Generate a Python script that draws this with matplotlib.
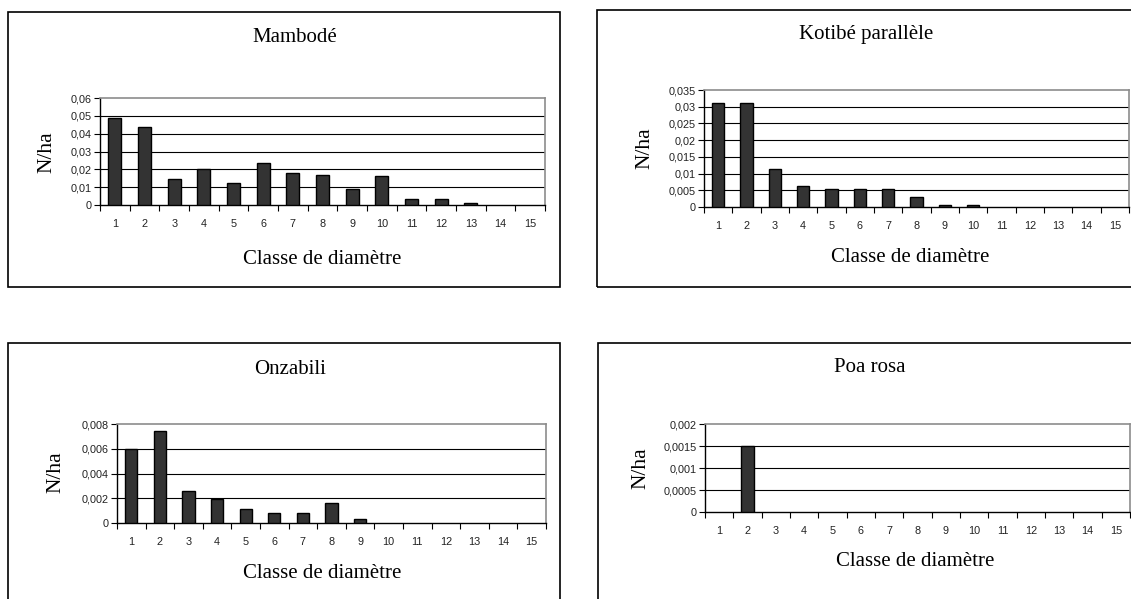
import numpy as np
import matplotlib
matplotlib.use("Agg")
import matplotlib.pyplot as plt
from matplotlib.patches import Rectangle

# data
classes = list(range(1, 16))
mambode = [0.049, 0.0435, 0.0145, 0.020, 0.0123, 0.0235, 0.018, 0.017, 0.009, 0.016, 0.0033, 0.0033, 0.001, 0, 0]
kotibe = [0.0312, 0.0312, 0.0113, 0.0063, 0.0053, 0.0053, 0.0053, 0.0029, 0.0007, 0.0007, 0, 0, 0, 0, 0]
onzabili = [0.0060, 0.0074, 0.0026, 0.0019, 0.0011, 0.0008, 0.0008, 0.0016, 0.0003, 0, 0, 0, 0, 0, 0]
poa_rosa = [0, 0.0015, 0, 0, 0, 0, 0, 0, 0, 0, 0, 0, 0, 0, 0]

ticks_mambode = [0, 0.01, 0.02, 0.03, 0.04, 0.05, 0.06]
ticks_kotibe = [0, 0.005, 0.01, 0.015, 0.02, 0.025, 0.03, 0.035]
ticks_onzabili = [0, 0.002, 0.004, 0.006, 0.008]
ticks_poa = [0, 0.0005, 0.001, 0.0015, 0.002]

titles = ["Mambodé", "Kotibé parallèle", "Onzabili", "Poa rosa"]

W, H = 1131, 599
fig = plt.figure(figsize=(W / 100, H / 100), dpi=100)
serif = "Liberation Serif"
sans = "Liberation Sans"


def fx(x):
    return x / W


def fy(y):
    return 1 - y / H


def panel(values, yticks, title, box, plot, title_xy, xlab_xy, ylab_xy):
    # outer frame of the chart
    bx0, by0, bx1, by1 = box
    fig.patches.append(Rectangle((fx(bx0), fy(by1)), fx(bx1 - bx0), (by1 - by0) / H,
                                 transform=fig.transFigure, fill=False,
                                 edgecolor="black", linewidth=1.2, clip_on=False))
    px0, py0, px1, py1 = plot
    ax = fig.add_axes([fx(px0), fy(py1), fx(px1 - px0), (py1 - py0) / H])
    x = np.array(classes)
    v = np.array(values)
    nz = v > 0  # Excel draws nothing for empty classes
    ax.bar(x[nz], v[nz], width=0.43, color="#333333", edgecolor="black", linewidth=1.0, zorder=3)
    ax.set_xlim(0.5, 15.5)
    ax.set_ylim(yticks[0], yticks[-1])
    ax.set_xticks(np.arange(0.5, 16, 1))
    ax.set_xticklabels([])
    ax.set_xticks(x, minor=True)
    ax.set_xticklabels([str(c) for c in classes], minor=True, fontsize=7.8, family=sans,
                       color="#222222")
    ax.tick_params(axis="x", which="major", direction="out", length=4, width=0.8)
    ax.tick_params(axis="x", which="minor", length=0, pad=10)
    ax.set_yticks(yticks)
    ax.set_yticklabels([f"{t:g}".replace(".", ",") for t in yticks], fontsize=7.8, family=sans,
                       color="#222222")
    ax.tick_params(axis="y", direction="out", length=4, width=0.8, pad=2)
    for t in yticks[1:-1]:
        ax.axhline(t, color="black", linewidth=0.8, zorder=1)
    for s in ("left", "bottom"):
        ax.spines[s].set_color("black")
        ax.spines[s].set_linewidth(1.0)
    for s in ("top", "right"):
        ax.spines[s].set_color("#8c8c8c")
        ax.spines[s].set_linewidth(1.2)
    fig.text(fx(title_xy[0]), fy(title_xy[1]), title, ha="center", va="center",
             fontsize=15, family=serif)
    fig.text(fx(xlab_xy[0]), fy(xlab_xy[1]), "Classe de diamètre", ha="center", va="center",
             fontsize=15, family=serif)
    fig.text(fx(ylab_xy[0]), fy(ylab_xy[1]), "N/ha", ha="center", va="center",
             rotation=90, fontsize=15.5, family=serif)
    return ax


panel(mambode, ticks_mambode, titles[0], (8, 12, 560, 287), (100, 98, 545, 205),
      (295, 38), (322, 259), (47, 152))
panel(kotibe, ticks_kotibe, titles[1], (597, 10, 1140, 287), (704, 90, 1129, 207),
      (866, 34), (910, 257), (645, 148))
panel(onzabili, ticks_onzabili, titles[2], (8, 343, 560, 610), (117, 424, 546, 523),
      (290, 369), (322, 573), (56, 472))
panel(poa_rosa, ticks_poa, titles[3], (598, 343, 1140, 610), (705, 424, 1130, 512),
      (870, 367), (915, 562), (641, 468))

fig.savefig("out.png", dpi=100)
